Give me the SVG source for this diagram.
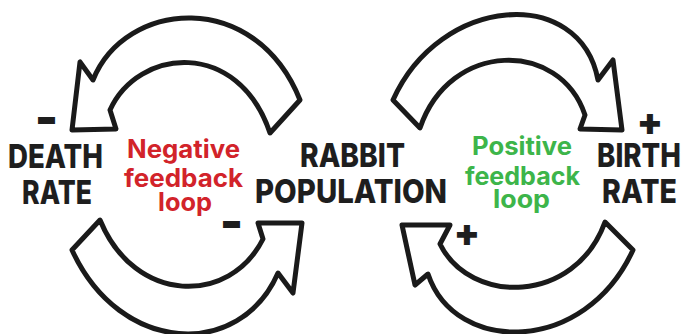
<svg xmlns="http://www.w3.org/2000/svg" width="683" height="334" viewBox="0 0 683 334">
<style>
.arrow{fill:#fff;stroke:#1a1a1a;stroke-width:5;stroke-linejoin:round}
.lbl{font-family:Inter,"Liberation Sans",sans-serif;font-weight:800;fill:#1e1e1e;font-size:33px}
.loop{font-family:Inter,"Liberation Sans",sans-serif;font-weight:700;font-size:25px}
.neg{fill:#d2232a}
.pos{fill:#3db54a}
.sign{font-family:Inter,"Liberation Sans",sans-serif;font-weight:900;fill:#1e1e1e}
</style>
<rect width="683" height="334" fill="#fff"/>
<g id="connectors">
<path id="arrow-pop-to-death" class="arrow" d="M300,100 C255,-12 125,0 93,80 L80,62 L72,130 L116,129 L110,110 C138,48 238,38 270,133 Z"/>
<path id="arrow-death-to-pop" class="arrow" d="M100,220 L72,250 C120,355 240,360 278,273 L293,293 L302,223 L258,223 L263,239 C230,305 135,305 100,220 Z"/>
<path id="arrow-pop-to-birth" class="arrow" d="M393,100 C440,-5 580,-15 598,80 L613,60 L622,130 L580,129 L585,115 C560,40 450,40 420,128 Z"/>
<path id="arrow-birth-to-pop" class="arrow" d="M402,225 L450,225 L440,244 C470,305 575,305 605,222 L633,250 C585,355 455,355 428,274 L415,285 Z"/>
<text class="sign" x="38" y="134" font-size="48" textLength="17" lengthAdjust="spacingAndGlyphs">–</text>
<text class="sign" x="223" y="238" font-size="48" textLength="17" lengthAdjust="spacingAndGlyphs">–</text>
<text class="sign" x="650" y="135" font-size="38" text-anchor="middle">+</text>
<text class="sign" x="467" y="246" font-size="38" text-anchor="middle">+</text>
</g>
<g id="death-rate">
<text class="lbl" x="8" y="168" textLength="95" lengthAdjust="spacingAndGlyphs">DEATH</text>
<text class="lbl" x="22" y="204" textLength="70" lengthAdjust="spacingAndGlyphs">RATE</text>
</g>
<g id="rabbit-population">
<text class="lbl" x="300" y="167" textLength="105" lengthAdjust="spacingAndGlyphs">RABBIT</text>
<text class="lbl" x="255" y="203" textLength="192" lengthAdjust="spacingAndGlyphs">POPULATION</text>
</g>
<g id="birth-rate">
<text class="lbl" x="597" y="167" textLength="84" lengthAdjust="spacingAndGlyphs">BIRTH</text>
<text class="lbl" x="602" y="203" textLength="75" lengthAdjust="spacingAndGlyphs">RATE</text>
</g>
<g id="negative-loop">
<text class="loop neg" x="127" y="158" textLength="113" lengthAdjust="spacingAndGlyphs">Negative</text>
<text class="loop neg" x="124" y="187" textLength="119" lengthAdjust="spacingAndGlyphs">feedback</text>
<text class="loop neg" x="158" y="211" textLength="54" lengthAdjust="spacingAndGlyphs">loop</text>
</g>
<g id="positive-loop">
<text class="loop pos" x="472" y="155" textLength="100" lengthAdjust="spacingAndGlyphs">Positive</text>
<text class="loop pos" x="465" y="185" textLength="115" lengthAdjust="spacingAndGlyphs">feedback</text>
<text class="loop pos" x="493" y="208" textLength="57" lengthAdjust="spacingAndGlyphs">loop</text>
</g>
</svg>
